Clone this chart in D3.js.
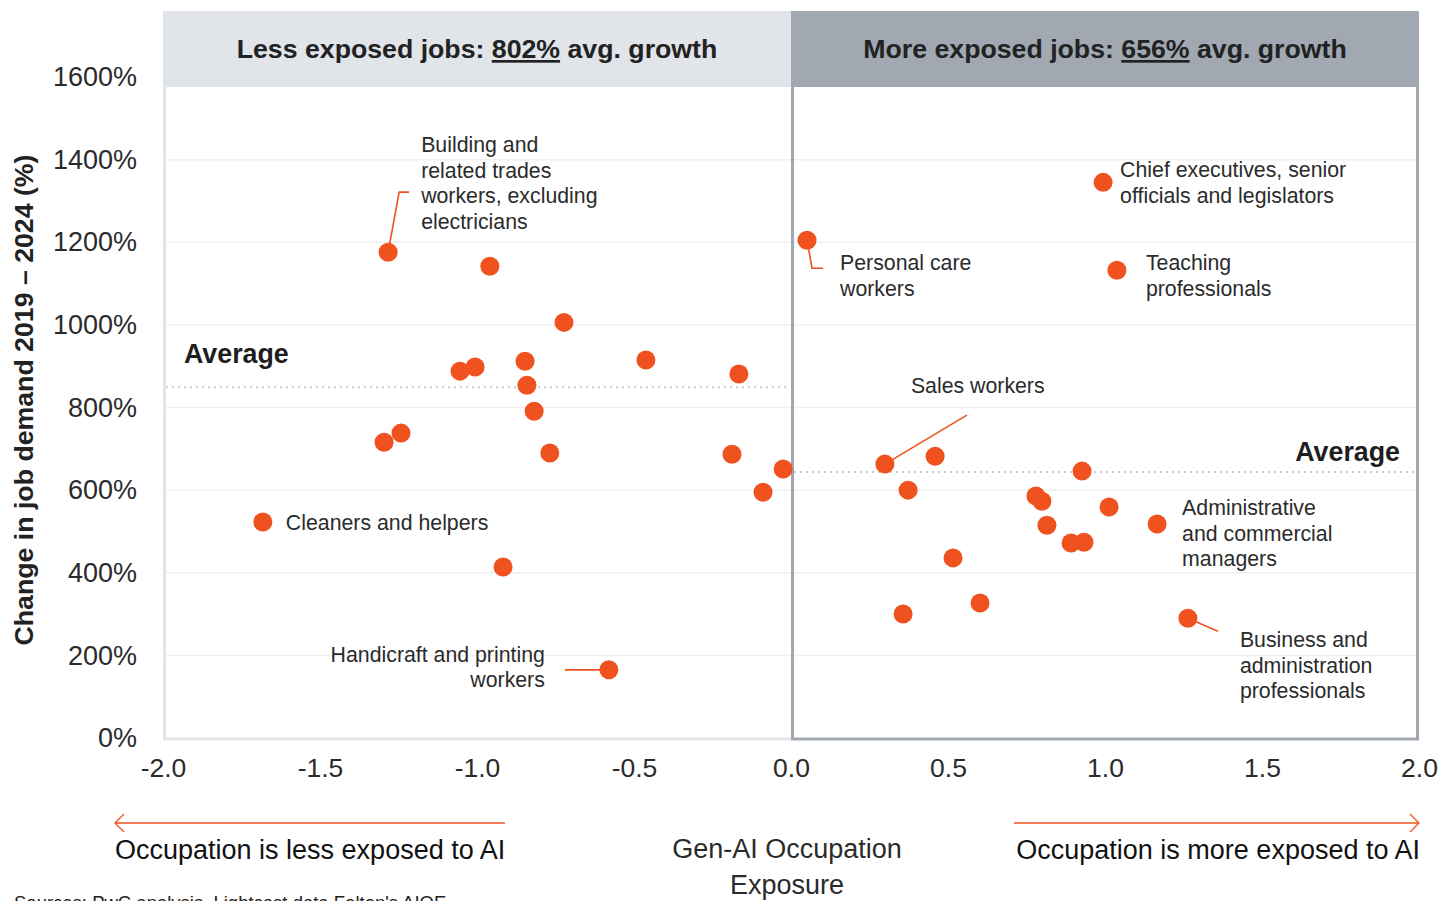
<!DOCTYPE html>
<html>
<head>
<meta charset="utf-8">
<script src="https://cdn.jsdelivr.net/npm/d3@7"></script>
<style>
  html, body { margin: 0; padding: 0; background: #fff; }
  svg { display: block; font-family: "Liberation Sans", Arial, Helvetica, sans-serif; }
</style>
</head>
<body>
<svg id="chart" width="1439" height="901"></svg>
<script>
// Occupations with low Gen-AI exposure (x = exposure score, y = % change in job demand)
const lessExposure = [-1.283, -0.959, -0.723, -1.054, -1.006, -0.847, -0.841, -0.818, -0.462, -0.166,
                      -1.296, -1.242, -0.768, -0.188, -0.025, -0.089, -1.682, -0.917, -0.580];
const lessDemand   = [1176, 1142, 1006, 888, 898, 912, 854, 791, 915, 881,
                      716, 738, 690, 687, 651, 595, 523, 414, 165];

// Occupations with high Gen-AI exposure
const moreExposure = [0.051, 0.994, 1.038, 0.299, 0.459, 0.373, 0.927, 0.780, 0.799, 1.013,
                      1.166, 0.815, 0.892, 0.933, 0.516, 0.357, 0.602, 1.264];
const moreDemand   = [1205, 1345, 1132, 663, 682, 600, 646, 586, 573, 559,
                      518, 515, 472, 474, 436, 300, 327, 290];

// Group averages shown as dotted lines, and headline averages
const averageLines = [849, 644];
const headlineAvg  = ["802%", "656%"];

const xTicks = [-2.0, -1.5, -1.0, -0.5, 0.0, 0.5, 1.0, 1.5, 2.0];
const yTicks = [0, 200, 400, 600, 800, 1000, 1200, 1400, 1600];

// Named callouts: group, index into that group's arrays, text lines
const callouts = [
  { group: "less", i: 0,  lines: ["Building and", "related trades", "workers, excluding", "electricians"] },
  { group: "less", i: 16, lines: ["Cleaners and helpers"] },
  { group: "less", i: 18, lines: ["Handicraft and printing", "workers"] },
  { group: "more", i: 0,  lines: ["Personal care", "workers"] },
  { group: "more", i: 1,  lines: ["Chief executives, senior", "officials and legislators"] },
  { group: "more", i: 2,  lines: ["Teaching", "professionals"] },
  { group: "more", i: 3,  lines: ["Sales workers"] },
  { group: "more", i: 10, lines: ["Administrative", "and commercial", "managers"] },
  { group: "more", i: 17, lines: ["Business and", "administration", "professionals"] }
];

// Layout for each callout (pixel offsets from its dot), in the same order
const calloutLayout = [
  { dx: 33,  dy: -100, anchor: "start", leader: [[11, -60], [21, -60]] },
  { dx: 23,  dy: 8,    anchor: "start", leader: null },
  { dx: -64, dy: -8,   anchor: "end",   leader: [[-44, 0]] },
  { dx: 33,  dy: 30,   anchor: "start", leader: [[5, 28], [16, 28]] },
  { dx: 17,  dy: -5,   anchor: "start", leader: null },
  { dx: 29,  dy: 0,    anchor: "start", leader: null },
  { dx: 26,  dy: -71,  anchor: "start", leader: [[82, -49]] },
  { dx: 25,  dy: -9,   anchor: "start", leader: null },
  { dx: 52,  dy: 29,   anchor: "start", leader: [[30, 13]] }
];

const ORANGE = "#f0521f";
const TEXT = "#2b2b2b";
const LIGHT = "#e1e4e8";
const DARK = "#a1a8b2";
const FONT = "Liberation Sans, Arial, sans-serif";

const svg = d3.select("#chart");

const plotLeft = 163, plotRight = 1419, plotTop = 11, plotBottom = 740, headerBottom = 87;

const x = d3.scaleLinear().domain([-2, 2]).range([plotLeft, plotRight]);
const y = d3.scaleLinear().domain([0, 1600]).range([738, 77]);

const xMid = x(0);

// Gridlines
svg.append("g")
  .selectAll("line")
  .data(yTicks.filter(d => d > 0))
  .join("line")
  .attr("x1", plotLeft + 2).attr("x2", plotRight - 2)
  .attr("y1", d => y(d)).attr("y2", d => y(d))
  .attr("stroke", "#efefef").attr("stroke-width", 1.5);

// Header bands
svg.append("rect").attr("x", plotLeft).attr("y", plotTop)
  .attr("width", xMid - plotLeft).attr("height", headerBottom - plotTop).attr("fill", LIGHT);
svg.append("rect").attr("x", xMid).attr("y", plotTop)
  .attr("width", plotRight - xMid).attr("height", headerBottom - plotTop).attr("fill", DARK);

// Panel borders
svg.append("path")
  .attr("d", `M${plotLeft + 1.5},${headerBottom} V${plotBottom - 1} H${xMid}`)
  .attr("fill", "none").attr("stroke", LIGHT).attr("stroke-width", 3);
svg.append("path")
  .attr("d", `M${xMid + 1.5},${headerBottom} V${plotBottom - 1} H${plotRight - 1.5} V${headerBottom}`)
  .attr("fill", "none").attr("stroke", DARK).attr("stroke-width", 3);

// Headers
const headers = [
  { cx: (plotLeft + xMid) / 2, pre: "Less exposed jobs: ", val: headlineAvg[0] },
  { cx: (xMid + plotRight) / 2, pre: "More exposed jobs: ", val: headlineAvg[1] }
];
headers.forEach(h => {
  const t = svg.append("text")
    .attr("x", h.cx).attr("y", 58)
    .attr("text-anchor", "middle")
    .attr("font-size", 26.7).attr("font-weight", "bold").attr("fill", "#222");
  t.append("tspan").text(h.pre);
  t.append("tspan").text(h.val).style("text-decoration", "underline");
  t.append("tspan").text(" avg. growth");
});

// Average lines
svg.append("line")
  .attr("x1", plotLeft + 3).attr("x2", xMid - 1)
  .attr("y1", y(averageLines[0])).attr("y2", y(averageLines[0]))
  .attr("stroke", "#c9cdd2").attr("stroke-width", 2).attr("stroke-dasharray", "2,4");
svg.append("line")
  .attr("x1", xMid + 3).attr("x2", plotRight - 3)
  .attr("y1", y(averageLines[1])).attr("y2", y(averageLines[1]))
  .attr("stroke", "#c9cdd2").attr("stroke-width", 2).attr("stroke-dasharray", "2,4");

svg.append("text").attr("x", 184).attr("y", y(averageLines[0]) - 24)
  .attr("font-size", 26.8).attr("font-weight", "bold").attr("fill", "#1e1e1e").text("Average");
svg.append("text").attr("x", 1400).attr("y", y(averageLines[1]) - 11)
  .attr("text-anchor", "end")
  .attr("font-size", 26.8).attr("font-weight", "bold").attr("fill", "#1e1e1e").text("Average");

// Axes (labels only)
const yAxis = d3.axisLeft(y).tickValues(yTicks).tickFormat(d => d + "%").tickSize(0).tickPadding(0);
const gy = svg.append("g").attr("transform", `translate(137,0)`).call(yAxis);
gy.select(".domain").remove();
gy.selectAll("text").attr("font-size", 27).attr("fill", TEXT).attr("font-family", FONT);

const fmtX = d => d3.format(".1f")(d).replace("\u2212", "-");
const xAxis = d3.axisBottom(x).tickValues(xTicks).tickFormat(fmtX).tickSize(0).tickPadding(0);
const gx = svg.append("g").attr("transform", `translate(0,758)`).call(xAxis);
gx.select(".domain").remove();
gx.selectAll("text").attr("font-size", 26.5).attr("fill", TEXT).attr("font-family", FONT);

// Y-axis title
svg.append("text")
  .attr("transform", `translate(33,400) rotate(-90)`)
  .attr("text-anchor", "middle")
  .attr("font-size", 26.7).attr("font-weight", "bold").attr("fill", "#222")
  .text("Change in job demand 2019 – 2024 (%)");

// Points
const points = [
  ...lessExposure.map((v, i) => ({ group: "less", i, ex: v, dm: lessDemand[i] })),
  ...moreExposure.map((v, i) => ({ group: "more", i, ex: v, dm: moreDemand[i] }))
];
const findPoint = (g, i) => points.find(p => p.group === g && p.i === i);

// Callout leaders and labels
const gCall = svg.append("g");
callouts.forEach((c, k) => {
  const p = findPoint(c.group, c.i);
  const px = x(p.ex), py = y(p.dm);
  const lay = calloutLayout[k];
  if (lay.leader) {
    const pts = [[px, py], ...lay.leader.map(([dx, dy]) => [px + dx, py + dy])];
    gCall.append("path").attr("d", d3.line()(pts))
      .attr("fill", "none").attr("stroke", ORANGE).attr("stroke-width", 1.6);
  }
  const t = gCall.append("text")
    .attr("x", px + lay.dx).attr("y", py + lay.dy)
    .attr("text-anchor", lay.anchor)
    .attr("font-size", 21.3).attr("fill", TEXT);
  c.lines.forEach((ln, j) => {
    t.append("tspan").attr("x", px + lay.dx).attr("dy", j === 0 ? 0 : 25.5).text(ln);
  });
});

svg.append("g")
  .selectAll("circle")
  .data(points)
  .join("circle")
  .attr("cx", d => x(d.ex)).attr("cy", d => y(d.dm))
  .attr("r", 9.5).attr("fill", ORANGE);

// Direction arrows below the axis
const arrowY = 823;
function arrow(x1, x2) {
  const dir = Math.sign(x2 - x1);
  svg.append("line").attr("x1", x1).attr("x2", x2).attr("y1", arrowY).attr("y2", arrowY)
    .attr("stroke", ORANGE).attr("stroke-width", 1.3);
  svg.append("path")
    .attr("d", `M${x2 - dir * 9},${arrowY - 9} L${x2},${arrowY} L${x2 - dir * 9},${arrowY + 9}`)
    .attr("fill", "none").attr("stroke", ORANGE).attr("stroke-width", 1.3);
}
arrow(505, 115);
arrow(1014, 1419);

svg.append("text").attr("x", 115).attr("y", 859)
  .attr("font-size", 27).attr("fill", "#111").text("Occupation is less exposed to AI");
svg.append("text").attr("x", 1420).attr("y", 859).attr("text-anchor", "end")
  .attr("font-size", 27).attr("fill", "#111").text("Occupation is more exposed to AI");

const xt = svg.append("text").attr("x", 787).attr("y", 858).attr("text-anchor", "middle")
  .attr("font-size", 27).attr("fill", TEXT);
xt.append("tspan").attr("x", 787).text("Gen-AI Occupation");
xt.append("tspan").attr("x", 787).attr("dy", 36).text("Exposure");

svg.append("text").attr("x", 14).attr("y", 909)
  .attr("font-size", 18.5).attr("fill", "#222")
  .text("Sources: PwC analysis, Lightcast data Felten's AIOE");
</script>
</body>
</html>
